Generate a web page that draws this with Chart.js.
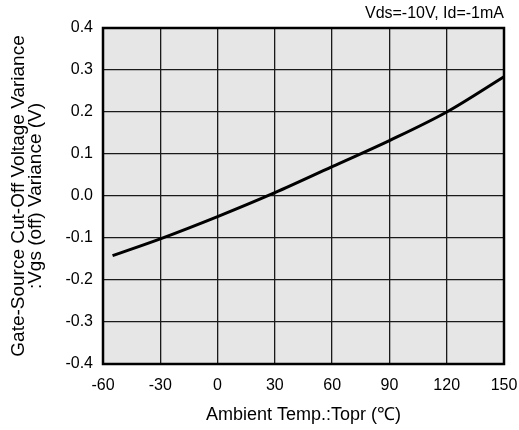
<!DOCTYPE html>
<html>
<head>
<meta charset="utf-8">
<script src="https://cdn.jsdelivr.net/npm/chart.js@4"></script>
<style>
  html, body { margin: 0; padding: 0; background: #ffffff; }
  #wrap { width: 519px; height: 430px; position: relative; }
</style>
</head>
<body>
<div id="wrap"><canvas id="c"></canvas></div>
<script>
// Data
const temps = [-55, -30, 0, 30, 60, 90, 120, 150];
const variance = [-0.142, -0.102, -0.049, 0.008, 0.070, 0.132, 0.200, 0.284];
const xTicks = [-60, -30, 0, 30, 60, 90, 120, 150];
const yTicks = [-0.4, -0.3, -0.2, -0.1, 0.0, 0.1, 0.2, 0.3, 0.4];
const conditionText = 'Vds=-10V, Id=-1mA';
const xTitle = 'Ambient Temp.:Topr (\u2103)';
const yTitle = ['Gate-Source Cut-Off Voltage Variance', ':Vgs (off) Variance (V)'];

const FONT = '"Liberation Sans", Arial, Helvetica, sans-serif';

const plotFrame = {
  id: 'plotFrame',
  beforeDraw(chart) {
    const a = chart.chartArea, ctx = chart.ctx;
    ctx.save();
    ctx.fillStyle = '#e6e6e6';
    ctx.fillRect(a.left, a.top, a.right - a.left, a.bottom - a.top);
    ctx.restore();
  },
  afterDatasetsDraw(chart) {
    const a = chart.chartArea, ctx = chart.ctx;
    ctx.save();
    ctx.strokeStyle = '#000';
    ctx.lineWidth = 2.5;
    ctx.strokeRect(a.left, a.top, a.right - a.left, a.bottom - a.top);
    ctx.restore();
  }
};

new Chart(document.getElementById('c'), {
  type: 'line',
  data: {
    datasets: [{
      data: temps.map((t, i) => ({ x: t, y: variance[i] })),
      borderColor: '#000',
      borderWidth: 3,
      pointRadius: 0,
      cubicInterpolationMode: 'monotone',
      fill: false
    }]
  },
  options: {
    responsive: true,
    maintainAspectRatio: false,
    animation: false,
    devicePixelRatio: 1,
    layout: { padding: { left: 0, right: 15, top: 0, bottom: 0 } },
    plugins: {
      legend: { display: false },
      tooltip: { enabled: false },
      title: {
        display: true,
        text: conditionText,
        align: 'end',
        color: '#000',
        font: { family: FONT, size: 16, weight: 'normal', lineHeight: 1.2 },
        padding: { top: 4, bottom: 4.8 }
      }
    },
    scales: {
      x: {
        type: 'linear',
        min: -60, max: 150,
        afterBuildTicks(s) { s.ticks = xTicks.map(v => ({ value: v })); },
        afterFit(s) { s.height = 66; s.paddingLeft = 0; s.paddingRight = 0; },
        ticks: {
          color: '#000',
          padding: 12,
          maxRotation: 0,
          font: { family: FONT, size: 16 },
          callback: v => String(v)
        },
        grid: { color: '#1a1a1a', lineWidth: 1.3, drawTicks: false },
        border: { display: false },
        title: {
          display: true,
          text: xTitle,
          color: '#000',
          font: { family: FONT, size: 18 },
          padding: { top: 0, bottom: 4 }
        }
      },
      y: {
        type: 'linear',
        min: -0.4, max: 0.4,
        afterBuildTicks(s) { s.ticks = yTicks.map(v => ({ value: v })); },
        afterFit(s) { s.width = 103; s.paddingTop = 0; s.paddingBottom = 0; },
        ticks: {
          color: '#000',
          padding: 10,
          font: { family: FONT, size: 16 },
          callback: v => Number(v).toFixed(1)
        },
        grid: { color: '#1a1a1a', lineWidth: 1.3, drawTicks: false },
        border: { display: false },
        title: {
          display: true,
          text: yTitle,
          color: '#000',
          font: { family: FONT, size: 19, lineHeight: '17px' },
          padding: { top: 10, bottom: 0 }
        }
      }
    }
  },
  plugins: [plotFrame]
});
</script>
</body>
</html>
